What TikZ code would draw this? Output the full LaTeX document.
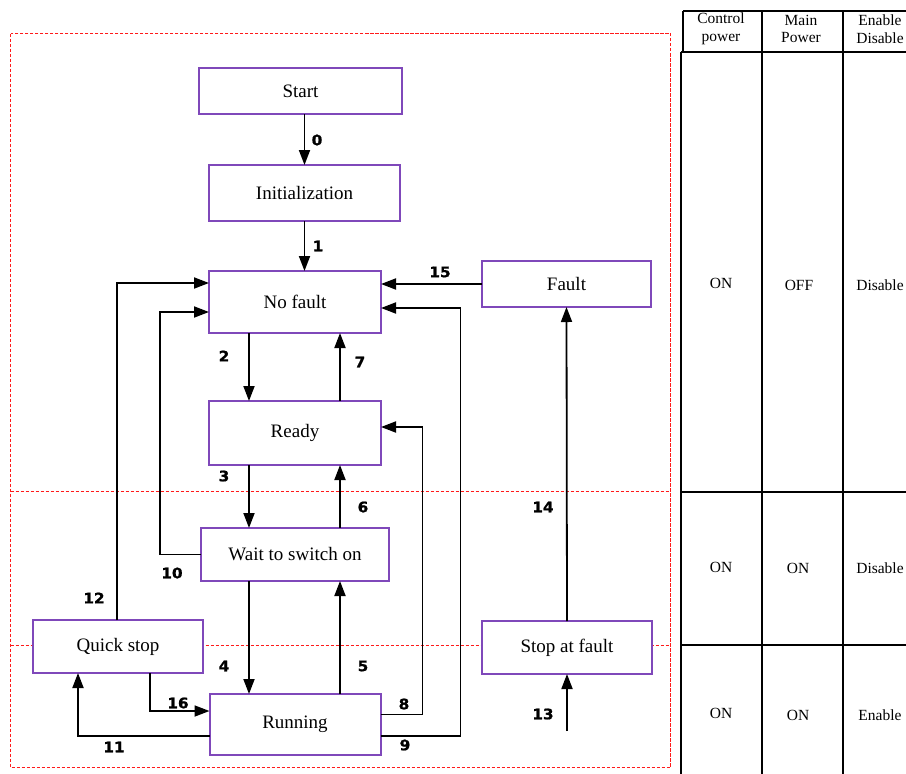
\documentclass[tikz,border=0pt]{standalone}
\usepackage{fontspec}
\setmainfont{Liberation Serif}
\newfontfamily\numfont[FakeBold=1.2, FakeStretch=1.05]{DejaVu Sans}
\usetikzlibrary{positioning, arrows.meta, calc}
\definecolor{cSTATE}{HTML}{7F48BA}
\definecolor{cZONE}{HTML}{FF1A1A}
\tikzset{
  statebox/.style={
    draw=cSTATE, line width=2pt,
    fill=white,
    inner sep=0pt, outer sep=0pt,
    align=center,
    font=\fontsize{19}{22}\selectfont
  },
  trans/.style={
    -{Triangle[length=15pt,width=11pt]},
    line width=1.8pt,
    draw=black
  },
  translabel/.style={
    font=\fontsize{14.5}{16}\selectfont\numfont\bfseries,
    inner sep=0pt
  },
  zone/.style={
    draw=cZONE, line width=1pt,
    dash pattern=on 3.5pt off 1.5pt
  },
  grid/.style={
    draw=black, line width=1.8pt
  },
  cell/.style={
    align=center,
    inner sep=0pt,
    font=\fontsize{15.5}{17.5}\selectfont
  }
}

\begin{document}
\begin{tikzpicture}[x=1pt, y=1pt]
  \useasboundingbox (0,0) rectangle (906,-774);

  % operating zones
  \draw[zone] (10.5,-33.5) rectangle (670.5,-767.5);
  \draw[zone] (10.5,-491.5) -- (670.5,-491.5);
  \draw[zone] (10.5,-645.5) -- (670.5,-645.5);

  % states
  \node[statebox, minimum width=203pt, minimum height=46pt] (start) at (300.5,-91) {Start};
  \node[statebox, minimum width=191pt, minimum height=56pt] (init) at (304.5,-193) {Initialization};
  \node[statebox, minimum width=172pt, minimum height=62pt] (nofault) at (295,-302) {No fault};
  \node[statebox, minimum width=172pt, minimum height=64pt, below=68pt of nofault] (ready) {Ready};
  \node[statebox, minimum width=188pt, minimum height=53pt, below=63pt of ready] (wait) {Wait to switch on};
  \node[statebox, minimum width=171pt, minimum height=61pt, below=113pt of wait] (running) {Running};
  \node[statebox, minimum width=170pt, minimum height=53pt] (quick) at (118,-646.5) {Quick stop};
  \node[statebox, minimum width=169pt, minimum height=46pt] (fault) at (566.5,-284) {Fault};
  \node[statebox, minimum width=170pt, minimum height=53pt] (stopfault) at (567,-647.5) {Stop at fault};
  \coordinate (in13) at (567,-731);

  % transitions
  \draw[trans] (init.north |- start.south) -- (init.north);
  \draw[trans] (init.south) -- (init.south |- nofault.north);
  \draw[trans] ([xshift=-46pt]nofault.south) -- ([xshift=-46pt]ready.north);
  \draw[trans] ([xshift=45pt]ready.north) -- ([xshift=45pt]nofault.south);
  \draw[trans] ([xshift=-46pt]ready.south) -- ([xshift=-46pt]wait.north);
  \draw[trans] ([xshift=45pt]wait.north) -- ([xshift=45pt]ready.south);
  \draw[trans] ([xshift=-46pt]wait.south) -- ([xshift=-46pt]running.north);
  \draw[trans] ([xshift=45pt]running.north) -- ([xshift=45pt]wait.south);
  \draw[trans] (wait.west) -- ++(-41,0) |- ([yshift=-10pt]nofault.west);
  \draw[trans] ([xshift=-1pt]quick.north) |- ([yshift=19pt]nofault.west);
  \draw[trans] (fault.west) -- (fault.west -| nofault.east);
  \draw[trans] ([yshift=-11.5pt]running.east) -- ++(80,0) |- ([yshift=-6pt]nofault.east);
  \draw[trans] ([yshift=10pt]running.east) -- ++(42,0) |- ([yshift=6pt]ready.east);
  \draw[trans] ([xshift=32pt]quick.south) |- ([yshift=13.5pt]running.west);
  \draw[trans] ([yshift=-11.5pt]running.west) -| ([xshift=-40pt]quick.south);
  \draw[trans] (stopfault.north) -- (fault.south);
  \draw[trans] (in13) -- (stopfault.south);

  % transition numbers
  \node[translabel] (n0) at (317,-140) {0};
  \node[translabel] (n1) at (318,-246) {1};
  \node[translabel] (n2) at (224,-356) {2};
  \node[translabel] (n3) at (224,-476) {3};
  \node[translabel] (n4) at (224,-666) {4};
  \node[translabel] (n5) at (363,-666) {5};
  \node[translabel] (n6) at (363,-507) {6};
  \node[translabel] (n7) at (360,-362) {7};
  \node[translabel] (n8) at (404,-704) {8};
  \node[translabel] (n9) at (405,-745) {9};
  \node[translabel] (n10) at (172,-573) {10};
  \node[translabel] (n11) at (114,-747) {11};
  \node[translabel] (n12) at (94,-598) {12};
  \node[translabel] (n13) at (543,-714) {13};
  \node[translabel] (n14) at (543,-507) {14};
  \node[translabel] (n15) at (440,-272) {15};
  \node[translabel] (n16) at (178,-703) {16};

  % power table
  \draw[grid] (683,-11) -- (906,-11);
  \draw[grid] (683,-11) -- (683,-52);
  \draw[grid] (681,-52) -- (906,-52);
  \draw[grid] (681,-52) -- (681,-774);
  \draw[grid] (762,-11) -- (762,-774);
  \draw[grid] (843,-11) -- (843,-774);
  \draw[grid] (681,-492) -- (906,-492);
  \draw[grid] (681,-645) -- (906,-645);

  \node[cell] (hctrl) at (721,-29) {Control\\power};
  \node[cell] (hmain) at (801,-29) {Main\\Power};
  \node[cell] (hen) at (880,-29) {Enable\\Disable};
  \node[cell] (ctrlA) at (721,-283) {ON};
  \node[cell] (mainA) at (799,-285) {OFF};
  \node[cell] (enA) at (880,-285) {Disable};
  \node[cell] (ctrlB) at (721,-567) {ON};
  \node[cell] (mainB) at (798,-568) {ON};
  \node[cell] (enB) at (880,-568) {Disable};
  \node[cell] (ctrlC) at (721,-713) {ON};
  \node[cell] (mainC) at (798,-715) {ON};
  \node[cell] (enC) at (880,-715) {Enable};
\end{tikzpicture}
\end{document}
